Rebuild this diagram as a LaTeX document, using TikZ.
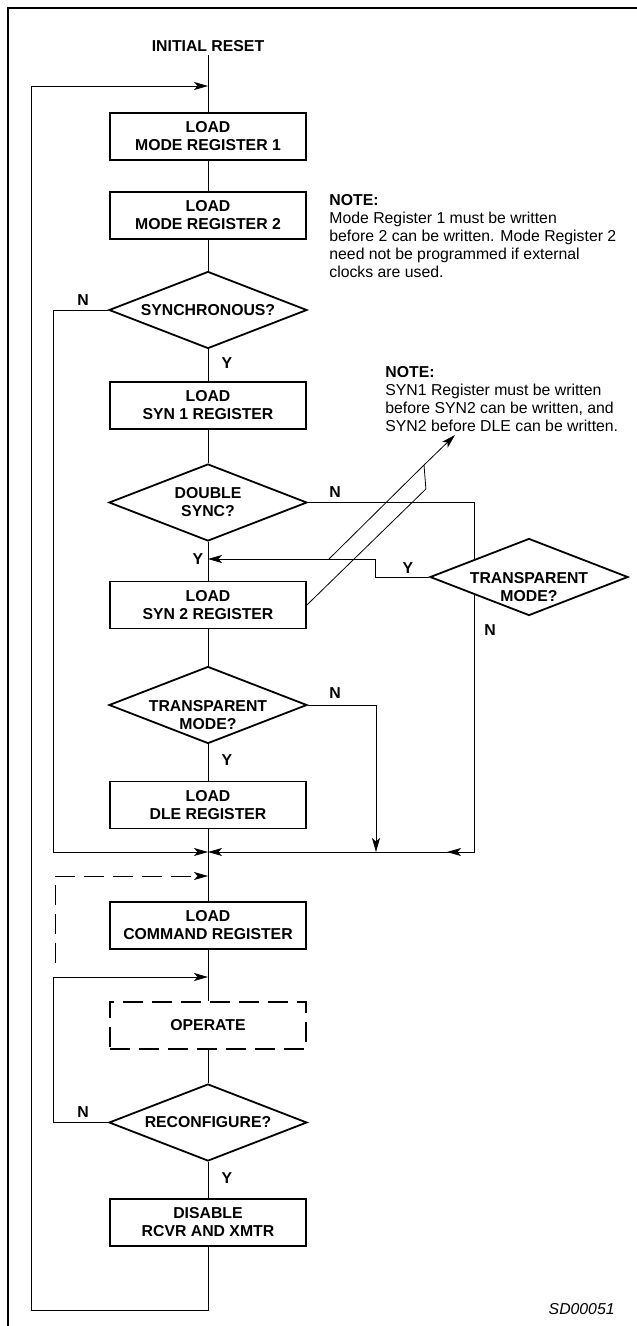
\documentclass[tikz,border=0pt]{standalone}
\usepackage{fontspec}
\setmainfont{Liberation Sans}
\usetikzlibrary{shapes.geometric,arrows.meta}

\begin{document}
\begin{tikzpicture}[x=1pt,y=-1pt,line width=0.8pt,
        font=\fontsize{15.8}{18}\selectfont,
        >={Stealth[length=14pt,width=8pt,inset=3.5pt]},
        reg/.style={draw,fill=white,line width=1.8pt,minimum width=196pt,
            minimum height=47pt,inner sep=0pt,align=center,
            font=\fontsize{15.8}{18}\selectfont\bfseries},
        test/.style={draw,diamond,fill=white,line width=1.8pt,aspect=2.6,
            minimum width=198pt,minimum height=77pt,inner sep=0pt,
            inner ysep=-4pt,align=center,
            font=\fontsize{15.8}{18}\selectfont\bfseries},
        lowtest/.style={test,inner ysep=-13pt},
        lbl/.style={font=\fontsize{15.8}{18}\selectfont\bfseries},
        note/.style={anchor=north west,align=left,inner sep=0pt}]
\useasboundingbox (0,0) rectangle (637,1326);
\draw[line width=2.5pt] (8,1340) |- (650,8);

% main column
\node[lbl] (reset) at (208,46) {INITIAL RESET};
\node[reg] (mr1) at (208,136.5) {LOAD\\MODE REGISTER 1};
\node[reg] (mr2) at (208,215.5) {LOAD\\MODE REGISTER 2};
\node[test] (sync) at (208,310) {SYNCHRONOUS?};
\node[reg] (syn1) at (208,405.5) {LOAD\\SYN 1 REGISTER};
\node[test] (dsync) at (208,502.5) {DOUBLE\\SYNC?};
\node[reg] (syn2) at (208,605) {LOAD\\SYN 2 REGISTER};
\node[lowtest] (tmode) at (208,705) {\strut\\TRANSPARENT\\MODE?};
\node[reg] (dle) at (208,805) {LOAD\\DLE REGISTER};
\node[reg] (cmd) at (208,925.5) {LOAD\\COMMAND REGISTER};
\node[reg,dash pattern=on 20pt off 9pt] (op) at (208,1025.5) {OPERATE};
\node[test] (reconf) at (208,1122.5) {RECONFIGURE?};
\node[reg] (dis) at (208,1222.5) {DISABLE\\RCVR AND XMTR};

\coordinate (top) at (208,86);
\coordinate (ysyn) at (208,559);
\coordinate (join) at (208,852);
\coordinate (redo) at (208,876);
\coordinate (back) at (208,977);
\coordinate (tn) at (376,852);
\coordinate (rj) at (474,852);
\coordinate (dsh) at (55,963);

\draw (reset) -- (mr1) -- (mr2) -- (sync) -- (syn1) -- (dsync) -- (syn2)
    -- (tmode) -- (dle) -- (cmd) -- (op) -- (reconf) -- (dis);

% side branches
\draw[->] (dis.south) -- ++(0,63.5) -- ++(-177,0) |- (top);
\draw[->] (sync.west) -- ++(-55,0) |- (join);
\draw[->] (tmode.east) -| (tn);
\draw[->] (reconf.west) -- ++(-55,0) |- (back);
\draw[->,dash pattern=on 20pt off 9pt] (dsh) |- (redo);

% transparent mode test for double sync
\draw[->] (dsync.east) -| (rj) -- (join);
\draw[->] (rj) -- ++(-27,0);
\node[lowtest] (tmode2) at (529,577) {\strut\\TRANSPARENT\\MODE?};
\draw[->] (tmode2.west) -- ++(-54,0) |- (ysyn);

\node[lbl] at (83,300) {N};
\node[lbl] at (227,363) {Y};
\node[lbl] at (335,492) {N};
\node[lbl] at (198,559) {Y};
\node[lbl] at (408,568) {Y};
\node[lbl] at (490,630) {N};
\node[lbl] at (335,693) {N};
\node[lbl] at (227,760) {Y};
\node[lbl] at (83,1112) {N};
\node[lbl] at (227,1178) {Y};

% notes
\node[note] (note1) at (329,194) {\textbf{NOTE:}\\Mode Register 1 must be written\\
    before 2 can be written. Mode Register 2\\need not be programmed if external\\
    clocks are used.};
\node[note] (note2) at (385,366) {\textbf{NOTE:}\\SYN1 Register must be written\\
    before SYN2 can be written, and\\SYN2 before DLE can be written.};
\coordinate (nb) at (329,559);
\coordinate (nk) at (424,465);
\coordinate (ntip) at (455,435);
\draw (syn2.east) -- ++(119,-116) -- (nk);
\draw[->] (nb) -- (nk) -- (ntip);

\node[anchor=east,inner sep=0pt,font=\fontsize{15.8}{18}\selectfont\itshape]
    (code) at (615,1309) {SD00051};
\end{tikzpicture}
\end{document}
